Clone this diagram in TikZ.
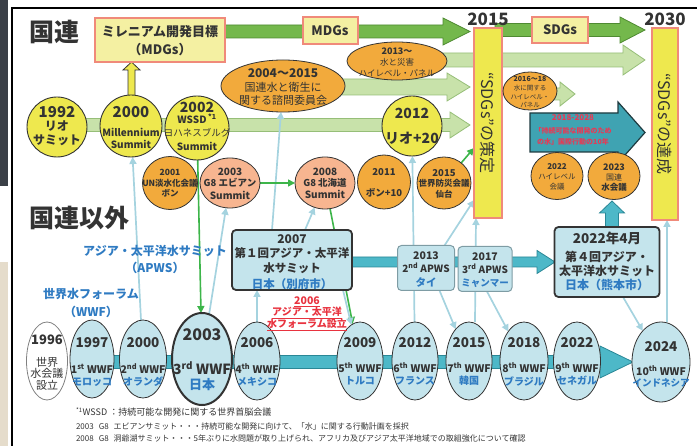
\documentclass[tikz,border=0pt]{standalone}
\usepackage{fontspec}
\setmainfont{Noto Sans CJK JP}
\usetikzlibrary{arrows.meta,shapes.geometric,calc}
\pgfdeclarelayer{bg}
\pgfsetlayers{bg,main}
\definecolor{tc}{HTML}{333333}
\definecolor{dg}{HTML}{74B84C}
\definecolor{dgb}{HTML}{4F8A32}
\definecolor{pg}{HTML}{C8E2AA}
\definecolor{pgb}{HTML}{96BE78}
\definecolor{yl}{HTML}{EEE84E}
\definecolor{ylb}{HTML}{F4F0A2}
\definecolor{pk}{HTML}{F08A7A}
\definecolor{org}{HTML}{F2AA3C}
\definecolor{sal}{HTML}{F7B590}
\definecolor{lbf}{HTML}{C4E4EC}
\definecolor{tl}{HTML}{4DB8C8}
\definecolor{tlb}{HTML}{2A8796}
\definecolor{tla}{HTML}{3FA3B2}
\definecolor{tlab}{HTML}{1E3B40}
\definecolor{bt}{HTML}{2F7BC2}
\definecolor{rd}{HTML}{E8333F}
\definecolor{rdp}{HTML}{E63A55}
\definecolor{lc}{HTML}{A5D3DF}
\definecolor{gc}{HTML}{3DB54A}
\definecolor{bgr}{HTML}{7E9CA4}
\definecolor{phA}{HTML}{3B4047}
\definecolor{phB}{HTML}{E5DCCB}
\newcommand{\fz}[1]{\fontsize{#1}{#1}\selectfont}
\newcommand\Tx[6][]{\node[txt,font={#5},#1] (#2) at (#3,#4) {#6};}
\newcommand\bandarrow[7]{\filldraw[#7] (#1,#4-#5) -- (#2,#4-#5) -- (#2,#4-#6) -- (#3,#4) -- (#2,#4+#6) -- (#2,#4+#5) -- (#1,#4+#5) -- cycle;}
\newcommand\uparr[7]{\filldraw[#7] (#1-#5,#2) -- (#1-#5,#3) -- (#1-#6,#3) -- (#1,#4) -- (#1+#6,#3) -- (#1+#5,#3) -- (#1+#5,#2) -- cycle;}
\begin{document}
\begin{tikzpicture}[x=1pt,y=-1pt,
  txt/.style={align=center,text=tc,inner sep=0pt,outer sep=0pt},
  shp/.style={inner sep=0pt,outer sep=0pt},
  ell/.style={shp,ellipse,draw=tc,line width=0.8pt},
  circ/.style={shp,circle,draw=tc,line width=0.9pt,fill=yl},
  ybox/.style={shp,rectangle,draw=pk,line width=2pt,fill=ylb},
  vbox/.style={shp,rectangle,draw=pk,line width=2.2pt,fill=yl},
  abox/.style={shp,rectangle,rounded corners=4pt,fill=lbf},
  wwf/.style={ell,fill=lbf,minimum width=46,minimum height=78},
  lca/.style={draw=lc,line width=1.7pt,-{Triangle[length=7pt,width=7pt]}},
  gca/.style={draw=gc,line width=1.6pt,-{Triangle[length=7pt,width=7pt]}},
  dga/.style={fill=dg,draw=dgb,line width=0.8pt},
  pga/.style={fill=pg,draw=pgb,line width=0.8pt},
  tba/.style={fill=tl,draw=tlb,line width=0.8pt},
  bta/.style={fill=tla,draw=tlab,line width=1.2pt},
  yua/.style={fill=yl,draw=tc,line width=0.8pt}]
\useasboundingbox (0,0) rectangle (697,446);
\fill[phA] (0,0) rectangle (8,186);
\fill[phB] (0,262) rectangle (8,446);
\draw[line width=1.2pt] (697,8) -- (12,8) -- (12,446);

% ---------- shapes ----------
\node[ybox,minimum width=130,minimum height=44] (mdg) at (160,40) {};
\node[ybox,minimum width=55,minimum height=27] (lmdg) at (330,31) {};
\node[ybox,minimum width=56,minimum height=26] (lsdg) at (560,30) {};
\node[vbox,minimum width=28,minimum height=190] (s2015) at (488,123) {};
\node[vbox,minimum width=26,minimum height=192] (s2030) at (665,124) {};

\node[circ,minimum size=60] (c1992) at (57,127) {};
\node[circ,minimum size=62] (c2000) at (131,126) {};
\node[circ,minimum size=64] (c2002) at (197,128) {};
\node[circ,minimum size=60] (c2012) at (412,126) {};

\node[ell,fill=org,minimum width=124,minimum height=52] (e2004) at (283,86) {};
\node[ell,fill=org,minimum width=100,minimum height=38] (e2013) at (397,61) {};
\node[ell,fill=org,minimum width=54,minimum height=38] (e2016) at (530,91) {};
\node[ell,fill=org,minimum width=55,minimum height=53] (o2001) at (170,183) {};
\node[ell,fill=sal,minimum width=60,minimum height=50] (g2003) at (230,183) {};
\node[ell,fill=sal,minimum width=60,minimum height=52] (g2008) at (325,183) {};
\node[ell,fill=org,minimum width=53,minimum height=54] (o2011) at (384,182) {};
\node[ell,fill=org,minimum width=54,minimum height=52] (o2015) at (444,183) {};
\node[ell,fill=org,minimum width=52,minimum height=47] (o2022) at (557,176) {};
\node[ell,fill=org,minimum width=52,minimum height=47] (o2023) at (614,176) {};

\node[abox,draw=tc,line width=1.8pt,minimum width=120,minimum height=60] (a2007) at (292,260) {};
\node[abox,draw=bgr,line width=1pt,minimum width=57,minimum height=45] (b2013) at (426,268) {};
\node[abox,draw=bgr,line width=1pt,minimum width=54,minimum height=45] (b2017) at (485,269) {};
\node[abox,draw=tc,line width=1.8pt,minimum width=105,minimum height=70] (b2022) at (607,262) {};

\node[ell,fill=white,draw=gray,minimum width=41,minimum height=78] (w1996) at (47,361) {};
\node[wwf,minimum width=44] (w1997) at (92,359) {};
\node[wwf,minimum width=47] (w2000) at (143,359) {};
\node[wwf,line width=2pt,minimum width=60,minimum height=92] (w2003) at (202,359) {};
\node[wwf] (w2006) at (257,361) {};
\node[wwf] (w2009) at (360,361) {};
\node[wwf] (w2012) at (415,361) {};
\node[wwf] (w2015) at (469,361) {};
\node[wwf,minimum width=48] (w2018) at (524,361) {};
\node[wwf,minimum width=47] (w2022) at (577,361) {};
\node[wwf,minimum width=58,minimum height=80] (w2024) at (661,362) {};

% ---------- bands and connectors ----------
\begin{pgfonlayer}{bg}
\bandarrow{225}{443}{470}{31.5}{6.5}{13.5}{dga}
\bandarrow{495}{620}{645}{30}{6.5}{13}{dga}
\bandarrow{440}{623}{645}{60}{7}{15}{pga}
\bandarrow{300}{447}{470}{87}{8}{14}{pga}
\bandarrow{57}{450}{470}{125}{6.5}{13}{pga}
\bandarrow{548}{560}{575}{94}{6}{12}{pga}
\bandarrow{530}{618}{645}{132.5}{19.5}{30.5}{bta}
\bandarrow{300}{537}{555}{262}{5}{11.5}{tba}
\bandarrow{92}{600}{633}{362}{6.5}{16}{tba}
\uparr{131.5}{96}{70}{62}{3.5}{8.5}{yua}
\uparr{612}{228}{213}{201}{6.5}{12.5}{tba}

\draw[lca] (w2000) -- (c2000);
\draw[gca] (c2002) -- (w2003);
\draw[lca] (w2003) -- (g2003);
\draw[lca] (w2006) -- (w2006 |- a2007.south);
\draw[lca] ($(a2007.north west)+(40,0)$) -- (e2004);
\draw[lca] ($(a2007.north)+(13,0)$) -- (g2008);
\draw[gca] (g2003) -- (g2008);
\draw[gca] (g2008) -- (w2009);
\draw[lca] ($(a2007.south east)+(-9,0)$) -- (w2009);
\draw[lca] (w2012) -- (c2012);
\draw[lca] ($(b2013.south east)+(-15,0)$) -- (w2015);
\draw[lca] ($(b2013.north east)+(-10,0)$) -- ($(s2015.south west)+(0,-18)$);
\draw[gca] (o2015) -- ($(s2015.west)+(0,25)$);
\draw[lca] ($(w2015.north)+(6,0)$) -- ($(s2015.south west)+(2,0)$);
\draw[lca] ($(b2017.south west)+(29,0)$) -- (w2018);
\draw[lca] ($(b2022.south)+(16,0)$) -- (w2024);
\draw[lca] ($(w2024.north)+(6,0)$) -- ($(s2030.south)+(2,0)$);
\end{pgfonlayer}

% ---------- texts ----------
\Tx{tUN}{55}{32}{\fz{25}\bfseries}{国連}
\Tx{tNUN}{80}{218}{\fz{25}\bfseries}{国連以外}
\Tx{t2015}{488}{19}{\fz{17}\bfseries}{2015}
\Tx{t2030}{665}{19}{\fz{17}\bfseries}{2030}

\Tx{tm1}{160}{32}{\fz{13}\bfseries}{ミレニアム開発目標}
\Tx{tm2}{160}{50}{\fz{13}\bfseries}{（MDGs）}
\Tx{tm3}{330}{31}{\fz{13}\bfseries}{MDGs}
\Tx{tm4}{560}{30}{\fz{13}\bfseries}{SDGs}
\Tx[rotate=-90]{ts1}{488}{123}{\fz{16}}{“SDGs”の策定}
\Tx[rotate=-90]{ts2}{665}{124}{\fz{16}}{“SDGs”の達成}

\Tx{t92a}{57}{112}{\fz{15}\bfseries}{1992}
\Tx{t92b}{57}{126}{\fz{12}\bfseries}{リオ}
\Tx{t92c}{57}{140}{\fz{12}\bfseries}{サミット}
\Tx{t00a}{131}{112}{\fz{15}\bfseries}{2000}
\Tx{t00b}{131}{132}{\fz{10}\bfseries}{Millennium}
\Tx{t00c}{131}{144}{\fz{10}\bfseries}{Summit}
\Tx{t02a}{197}{107}{\fz{14}\bfseries}{2002}
\Tx{t02b}{197}{119}{\fz{10}\bfseries}{WSSD\,\textsuperscript{*1}}
\Tx{t02c}{197}{133}{\fz{9.5}}{ヨハネスブルグ}
\Tx{t02d}{197}{146}{\fz{10}\bfseries}{Summit}
\Tx{t12a}{412}{113}{\fz{14}\bfseries}{2012}
\Tx{t12b}{412}{138}{\fz{14}\bfseries}{リオ+20}

\Tx{t04a}{283}{73}{\fz{12}\bfseries}{2004～2015}
\Tx{t04b}{283}{87}{\fz{11}}{国連水と衛生に}
\Tx{t04c}{283}{100}{\fz{11}}{関する諮問委員会}
\Tx{t13a}{397}{51}{\fz{9}\bfseries}{2013～}
\Tx{t13b}{397}{62}{\fz{8.5}}{水と災害}
\Tx{t13c}{397}{73}{\fz{8.5}}{ハイレベル・パネル}
\Tx{t16a}{530}{79}{\fz{7}\bfseries}{2016～18}
\Tx{t16b}{530}{88}{\fz{6.5}}{水に関する}
\Tx{t16c}{530}{97}{\fz{6.5}}{ハイレベル・}
\Tx{t16d}{530}{105}{\fz{6.5}}{パネル}

\Tx{t01a}{170}{172}{\fz{8.5}\bfseries}{2001}
\Tx{t01b}{170}{183}{\fz{8.5}\bfseries}{UN淡水化会議}
\Tx{t01c}{170}{193}{\fz{8.5}\bfseries}{ボン}
\Tx{t03a}{230}{172}{\fz{10}\bfseries}{2003}
\Tx{t03b}{230}{183}{\fz{9.5}\bfseries}{G8 エビアン}
\Tx{t03c}{230}{195}{\fz{10}\bfseries}{Summit}
\Tx{t08a}{325}{172}{\fz{10}\bfseries}{2008}
\Tx{t08b}{325}{183}{\fz{9.5}\bfseries}{G8 北海道}
\Tx{t08c}{325}{194}{\fz{10}\bfseries}{Summit}
\Tx{t11a}{384}{172}{\fz{9.5}\bfseries}{2011}
\Tx{t11b}{384}{193}{\fz{9.5}\bfseries}{ボン+10}
\Tx{t15a}{444}{173}{\fz{9.5}\bfseries}{2015}
\Tx{t15b}{444}{183}{\fz{8.5}\bfseries}{世界防災会議}
\Tx{t15c}{444}{194}{\fz{8.5}\bfseries}{仙台}
\Tx{t22a}{557}{167}{\fz{8}\bfseries}{2022}
\Tx{t22b}{557}{177}{\fz{7.5}}{ハイレベル}
\Tx{t22c}{557}{187}{\fz{7.5}}{会議}
\Tx{t23a}{614}{167}{\fz{9}\bfseries}{2023}
\Tx{t23b}{614}{177}{\fz{8}}{国連}
\Tx{t23c}{614}{187}{\fz{8.5}\bfseries}{水会議}

\Tx[text=rdp]{tt1}{573}{118}{\fz{8}\bfseries}{2018-2028}
\Tx[text=rdp]{tt2}{573}{131}{\fz{7}\bfseries}{「持続可能な開発のため}
\Tx[text=rdp]{tt3}{573}{142}{\fz{7}\bfseries}{の水」国際行動の10年}

\Tx{ta1}{292}{239}{\fz{12}\bfseries}{2007}
\Tx{ta2}{292}{253}{\fz{11.5}\bfseries}{第１回アジア・太平洋}
\Tx{ta3}{292}{268}{\fz{11.5}\bfseries}{水サミット}
\Tx[text=bt]{ta4}{292}{284}{\fz{11.5}\bfseries}{日本（別府市）}
\Tx{tb1}{426}{256}{\fz{10.5}\bfseries}{2013}
\Tx{tb2}{426}{268}{\fz{10}\bfseries}{2\textsuperscript{nd} APWS}
\Tx[text=bt]{tb3}{426}{282}{\fz{10.5}\bfseries}{タイ}
\Tx{tc1}{485}{257}{\fz{10.5}\bfseries}{2017}
\Tx{tc2}{485}{269}{\fz{10}\bfseries}{3\textsuperscript{rd} APWS}
\Tx[text=bt]{tc3}{485}{283}{\fz{9.5}\bfseries}{ミャンマー}
\Tx{td1}{607}{238}{\fz{13.5}\bfseries}{2022年4月}
\Tx{td2}{607}{257}{\fz{12}\bfseries}{第４回アジア・}
\Tx{td3}{607}{271}{\fz{12}\bfseries}{太平洋水サミット}
\Tx[text=bt]{td4}{607}{285}{\fz{12}\bfseries}{日本（熊本市）}

\Tx[text=bt]{la1}{155}{251}{\fz{12}\bfseries}{アジア・太平洋水サミット}
\Tx[text=bt]{la2}{155}{268}{\fz{12}\bfseries}{（APWS）}
\Tx[text=bt]{lw1}{91}{294}{\fz{12}\bfseries}{世界水フォーラム}
\Tx[text=bt]{lw2}{91}{312}{\fz{12}\bfseries}{（WWF）}
\Tx[text=rd]{lr1}{307}{302}{\fz{10.5}\bfseries}{\underline{2006}}
\Tx[text=rd]{lr2}{307}{313}{\fz{10}\bfseries}{\underline{アジア・太平洋}}
\Tx[text=rd]{lr3}{307}{325}{\fz{10}\bfseries}{\underline{水フォーラム設立}}

\Tx{x96a}{47}{340}{\fz{13}\bfseries}{1996}
\Tx{x96b}{47}{362}{\fz{11}}{世界}
\Tx{x96c}{47}{373}{\fz{11}}{水会議}
\Tx{x96d}{47}{385}{\fz{11}}{設立}
\Tx{x97a}{92}{343}{\fz{13.5}\bfseries}{1997}
\Tx{x97b}{92}{369}{\fz{10.5}\bfseries}{1\textsuperscript{st} WWF}
\Tx[text=bt]{x97c}{92}{382}{\fz{10}\bfseries}{モロッコ}
\Tx{x00a}{143}{343}{\fz{13.5}\bfseries}{2000}
\Tx{x00b}{143}{369}{\fz{10.5}\bfseries}{2\textsuperscript{nd} WWF}
\Tx[text=bt]{x00c}{143}{382}{\fz{10}\bfseries}{オランダ}
\Tx{x03a}{202}{335}{\fz{16}\bfseries}{2003}
\Tx{x03b}{202}{368}{\fz{14}\bfseries}{3\textsuperscript{rd} WWF}
\Tx[text=bt]{x03c}{202}{385}{\fz{13}\bfseries}{日本}
\Tx{x06a}{257}{343}{\fz{13.5}\bfseries}{2006}
\Tx{x06b}{257}{369}{\fz{10.5}\bfseries}{4\textsuperscript{th} WWF}
\Tx[text=bt]{x06c}{257}{382}{\fz{10}\bfseries}{メキシコ}
\Tx{x09a}{360}{343}{\fz{13.5}\bfseries}{2009}
\Tx{x09b}{360}{368}{\fz{10.5}\bfseries}{5\textsuperscript{th} WWF}
\Tx[text=bt]{x09c}{360}{381}{\fz{10}\bfseries}{トルコ}
\Tx{x12a}{415}{343}{\fz{13.5}\bfseries}{2012}
\Tx{x12b}{415}{368}{\fz{10.5}\bfseries}{6\textsuperscript{th} WWF}
\Tx[text=bt]{x12c}{415}{381}{\fz{10}\bfseries}{フランス}
\Tx{x15a}{469}{343}{\fz{13.5}\bfseries}{2015}
\Tx{x15b}{469}{368}{\fz{10.5}\bfseries}{7\textsuperscript{th} WWF}
\Tx[text=bt]{x15c}{469}{381}{\fz{10}\bfseries}{韓国}
\Tx{x18a}{524}{343}{\fz{13.5}\bfseries}{2018}
\Tx{x18b}{524}{368}{\fz{10.5}\bfseries}{8\textsuperscript{th} WWF}
\Tx[text=bt]{x18c}{524}{381}{\fz{10}\bfseries}{ブラジル}
\Tx{x22a}{577}{343}{\fz{13.5}\bfseries}{2022}
\Tx{x22b}{577}{368}{\fz{10.5}\bfseries}{9\textsuperscript{th} WWF}
\Tx[text=bt]{x22c}{577}{381}{\fz{10}\bfseries}{セネガル}
\Tx{x24a}{661}{347}{\fz{13.5}\bfseries}{2024}
\Tx{x24b}{661}{371}{\fz{10.5}\bfseries}{10\textsuperscript{th} WWF}
\Tx[text=bt]{x24c}{661}{383}{\fz{9.5}\bfseries}{インドネシア}

\Tx[anchor=west]{fn1}{76}{412}{\fz{9}}{\textsuperscript{*1}WSSD ：持続可能な開発に関する世界首脳会議}
\Tx[anchor=west]{fn2}{76}{426}{\fz{8}}{2003\hspace{5pt}G8\hspace{5pt}エビアンサミット・・・持続可能な開発に向けて、「水」に関する行動計画を採択}
\Tx[anchor=west]{fn3}{76}{438}{\fz{8}}{2008\hspace{5pt}G8\hspace{5pt}洞爺湖サミット・・・5年ぶりに水問題が取り上げられ、アフリカ及びアジア太平洋地域での取組強化について確認}
\end{tikzpicture}
\end{document}
